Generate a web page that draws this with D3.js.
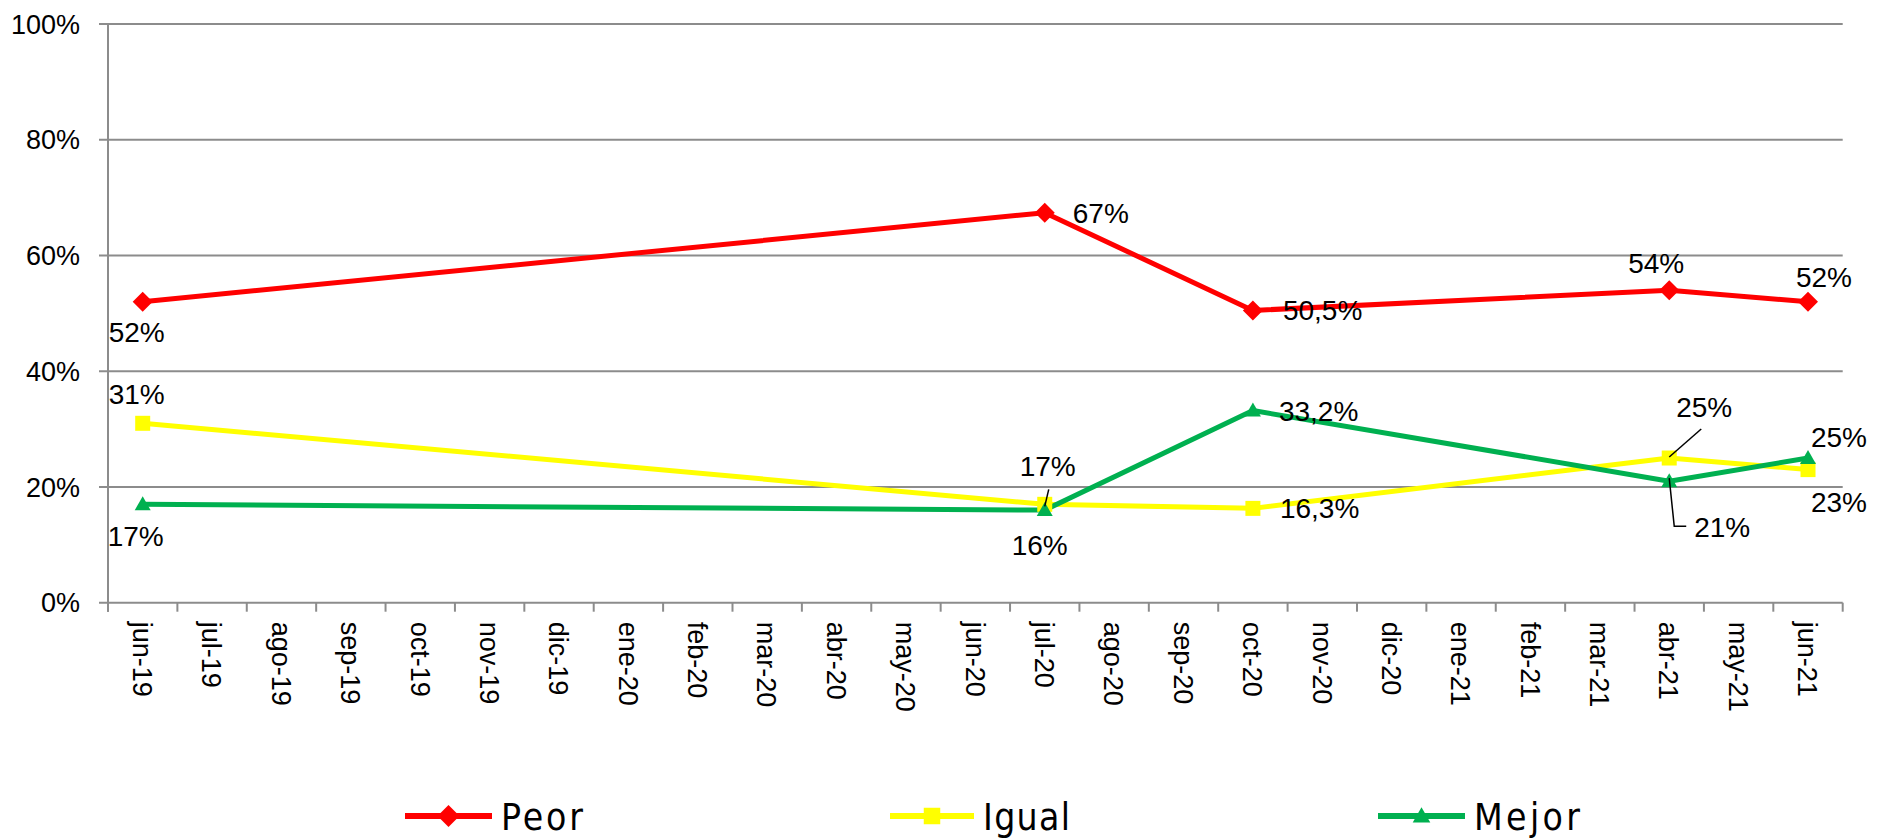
<!DOCTYPE html>
<html>
<head>
<meta charset="utf-8">
<script src="https://cdn.jsdelivr.net/npm/d3@7"></script>
<style>
  body { margin: 0; background: #fff; }
  svg { display: block; font-family: "Liberation Sans", Arial, sans-serif; }
</style>
</head>
<body>
<div id="chart"></div>
<script>
// Month categories on the x axis
const categories = ["jun-19", "jul-19", "ago-19", "sep-19", "oct-19", "nov-19", "dic-19",
  "ene-20", "feb-20", "mar-20", "abr-20", "may-20", "jun-20", "jul-20", "ago-20", "sep-20",
  "oct-20", "nov-20", "dic-20", "ene-21", "feb-21", "mar-21", "abr-21", "may-21", "jun-21"];

// Survey waves and values (%)
const waves = ["jun-19", "jul-20", "oct-20", "abr-21", "jun-21"];
const peor = [52, 67.4, 50.5, 54, 52];
const igual = [31, 17, 16.3, 25, 23];
const mejor = [17, 16, 33.2, 21, 25];

const peorLabels = ["52%", "67%", "50,5%", "54%", "52%"];
const igualLabels = ["31%", "17%", "16,3%", "25%", "23%"];
const mejorLabels = ["17%", "16%", "33,2%", "21%", "25%"];

const yTicks = [0, 20, 40, 60, 80, 100];

const width = 1883, height = 839;
const plotLeft = 108, plotRight = 1842.7, plotTop = 24, plotBottom = 602.7;

const x = d3.scaleBand().domain(categories).range([plotLeft, plotRight]);
const y = d3.scaleLinear().domain([0, 100]).range([plotBottom, plotTop]);

const svg = d3.select("#chart").append("svg")
  .attr("width", width)
  .attr("height", height);

const grey = "#8c8c8c";

// gridlines + y labels
svg.append("g").selectAll("line")
  .data(yTicks)
  .join("line")
    .attr("x1", plotLeft - 9).attr("x2", plotRight)
    .attr("y1", d => y(d)).attr("y2", d => y(d))
    .attr("stroke", grey).attr("stroke-width", 2);

svg.append("g").selectAll("text")
  .data(yTicks)
  .join("text")
    .attr("x", 80).attr("y", d => y(d))
    .attr("dy", "0.36em")
    .attr("text-anchor", "end")
    .attr("font-size", 27)
    .text(d => d + "%");

// y axis line
svg.append("line")
  .attr("x1", plotLeft).attr("x2", plotLeft)
  .attr("y1", plotTop).attr("y2", plotBottom + 9)
  .attr("stroke", grey).attr("stroke-width", 2);

// x axis ticks between categories
const boundaries = categories.map(c => x(c)).concat([plotRight]);
svg.append("g").selectAll("line")
  .data(boundaries)
  .join("line")
    .attr("x1", d => d).attr("x2", d => d)
    .attr("y1", plotBottom).attr("y2", plotBottom + 9)
    .attr("stroke", grey).attr("stroke-width", 2);

// rotated month labels
svg.append("g").selectAll("text")
  .data(categories)
  .join("text")
    .attr("transform", d => `translate(${x(d) + x.bandwidth() / 2},${plotBottom + 19}) rotate(90)`)
    .attr("dy", "0.36em")
    .attr("font-size", 27)
    .text(d => d);

const cx = i => x(waves[i]) + x.bandwidth() / 2;

const series = [
  { name: "Peor", values: peor, labels: peorLabels, color: "#ff0000", marker: "diamond",
    // label offsets [dx, dy of baseline, anchor]
    place: [[-6, 40, "middle"], [28, 10, "start"], [30, 10, "start"], [-13, -17, "middle"], [16, -15, "middle"]] },
  { name: "Igual", values: igual, labels: igualLabels, color: "#ffff00", marker: "square",
    place: [[-6, -19, "middle"], [3, -28, "middle"], [27, 10, "start"], [35, -41, "middle"], [31, 42, "middle"]] },
  { name: "Mejor", values: mejor, labels: mejorLabels, color: "#00b050", marker: "triangle",
    place: [[-7, 42, "middle"], [-5, 45, "middle"], [26, 10, "start"], [53, 56, "middle"], [31, -11, "middle"]] }
];

function markerPath(type, s) {
  if (type === "diamond") return `M0,${-10 * s}L${10 * s},0L0,${10 * s}L${-10 * s},0Z`;
  if (type === "square") return `M${-7.5 * s},${-7.5 * s}h${15 * s}v${15 * s}h${-15 * s}Z`;
  return `M0,${-8 * s}L${8 * s},${6 * s}L${-8 * s},${6 * s}Z`;
}

const line = d3.line()
  .x((d, i) => cx(i))
  .y(d => y(d));

// Draw order: Peor, Igual, Mejor
series.forEach(s => {
  svg.append("path")
    .datum(s.values)
    .attr("fill", "none")
    .attr("stroke", s.color)
    .attr("stroke-width", 5)
    .attr("stroke-linejoin", "round")
    .attr("d", line);
});

series.forEach(s => {
  svg.append("g").selectAll("path")
    .data(s.values)
    .join("path")
      .attr("transform", (d, i) => `translate(${cx(i)},${y(d)})`)
      .attr("d", markerPath(s.marker, 1))
      .attr("fill", s.color);
});

// leader lines for crowded labels
const leaders = [
  { s: 1, i: 1, pts: [[4, -15], [0, 2]] },
  { s: 1, i: 3, pts: [[32, -29], [0, -1]] },
  { s: 2, i: 3, pts: [[0, -3], [5, 45], [17, 45]] }
];
leaders.forEach(l => {
  const px = cx(l.i), py = y(series[l.s].values[l.i]);
  svg.append("path")
    .attr("d", d3.line()(l.pts.map(p => [px + p[0], py + p[1]])))
    .attr("fill", "none")
    .attr("stroke", "#000")
    .attr("stroke-width", 1.5);
});

series.forEach(s => {
  svg.append("g").selectAll("text")
    .data(s.values)
    .join("text")
      .attr("x", (d, i) => cx(i) + s.place[i][0])
      .attr("y", (d, i) => y(d) + s.place[i][1])
      .attr("text-anchor", (d, i) => s.place[i][2])
      .attr("font-size", 28)
      .text((d, i) => s.labels[i]);
});

// legend
const legendX = [405, 890, 1378];
const legendLen = [87, 84, 87];
const legendTextW = [82, 87, 106];
const legendY = 816;
const legend = svg.append("g");
series.forEach((s, k) => {
  const g = legend.append("g").attr("transform", `translate(${legendX[k]},${legendY})`);
  g.append("line")
    .attr("x1", 0).attr("x2", legendLen[k])
    .attr("stroke", s.color).attr("stroke-width", 6);
  g.append("path")
    .attr("transform", `translate(${legendLen[k] / 2},0)`)
    .attr("d", markerPath(s.marker, 1.1))
    .attr("fill", s.color);
  g.append("text")
    .attr("x", legendLen[k] + 9)
    .attr("y", 14)
    .attr("font-family", "'Liberation Sans Narrow', 'DejaVu Sans Condensed', sans-serif")
    .attr("font-size", 37)
    .attr("textLength", legendTextW[k])
    .attr("lengthAdjust", "spacing")
    .text(s.name);
});
</script>
</body>
</html>
